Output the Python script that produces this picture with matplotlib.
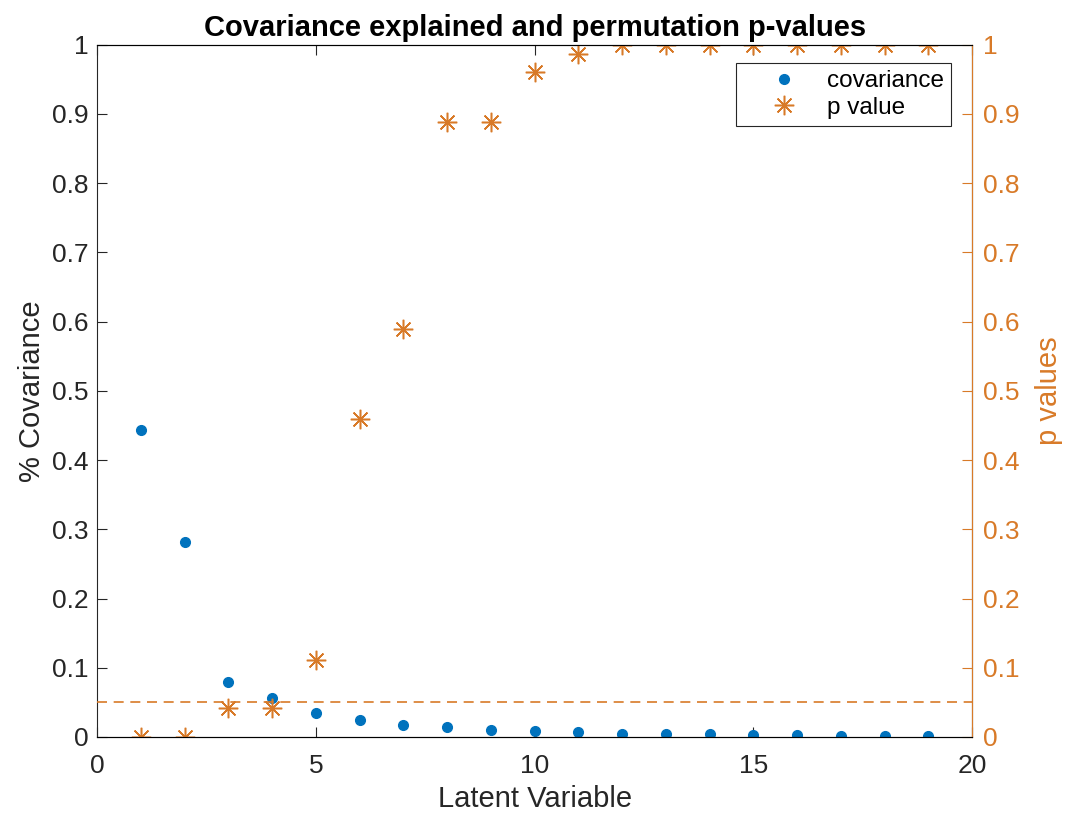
import numpy as np
import matplotlib.pyplot as plt

plt.rcParams['font.family'] = ['Liberation Sans', 'DejaVu Sans']

latent = np.arange(1, 20)
covariance = [0.443, 0.281, 0.080, 0.057, 0.035, 0.024, 0.018, 0.014, 0.010,
              0.009, 0.007, 0.005, 0.004, 0.004, 0.003, 0.003, 0.002, 0.0015, 0.001]
p_values = [0.0, 0.0, 0.042, 0.042, 0.111, 0.459, 0.590, 0.888, 0.888,
            0.961, 0.986, 1.0, 1.0, 1.0, 1.0, 1.0, 1.0, 1.0, 1.0]
alpha = 0.05

blue = '#0072BD'
orange = '#D87A28'
dark = '#262626'

fig = plt.figure(figsize=(10.66, 8.13), dpi=100)
ax = fig.add_axes([0.091, 0.0935, 0.821, 0.8515])
ax2 = ax.twinx()

h1, = ax.plot(latent, covariance, 'o', color=blue, markersize=7, label='covariance')
h2, = ax2.plot(latent, p_values, linestyle='none', marker=(8, 2, 0), color=orange,
               markersize=14, markeredgewidth=1.1, label='p value')
ax2.axhline(alpha, color=orange, linestyle=(0, (6, 4)), linewidth=1.2)

ax.set_xlim(0, 20)
ax.set_ylim(0, 1)
ax2.set_ylim(0, 1)
ax.set_xticks([0, 5, 10, 15, 20])
yt = np.round(np.arange(0, 1.01, 0.1), 1)
ylab = ['0'] + [f'{v:g}' for v in yt[1:-1]] + ['1']
ax.set_yticks(yt)
ax.set_yticklabels(ylab)
ax2.set_yticks(yt)
ax2.set_yticklabels(ylab)

ax.tick_params(direction='in', labelsize=19, length=7, colors=dark)
ax.tick_params(axis='x', top=True, pad=12)
ax.tick_params(axis='y', pad=6)
ax2.tick_params(direction='in', labelsize=19, length=7, colors=orange, pad=8)
for s in ['left', 'bottom', 'top']:
    ax.spines[s].set_color(dark)
ax2.spines['right'].set_color(orange)
ax2.spines['left'].set_visible(False)

ax.set_xlabel('Latent Variable', fontsize=21, color=dark, labelpad=5)
ax.set_ylabel('% Covariance', fontsize=21, color=dark, labelpad=4)
ax2.set_ylabel('p values', fontsize=21, color=orange, labelpad=11)
ax.set_title('Covariance explained and permutation p-values', fontsize=21,
             fontweight='bold', pad=6)

leg = ax2.legend(handles=[h1, h2], loc='upper right', bbox_to_anchor=(0.976, 0.974),
                 fontsize=17.5, fancybox=False, edgecolor=dark, framealpha=1,
                 borderpad=0.3, handletextpad=0.05, handlelength=3.4,
                 labelspacing=0.2, borderaxespad=0)
leg.get_frame().set_linewidth(0.8)

fig.savefig('out.png', dpi=100)
